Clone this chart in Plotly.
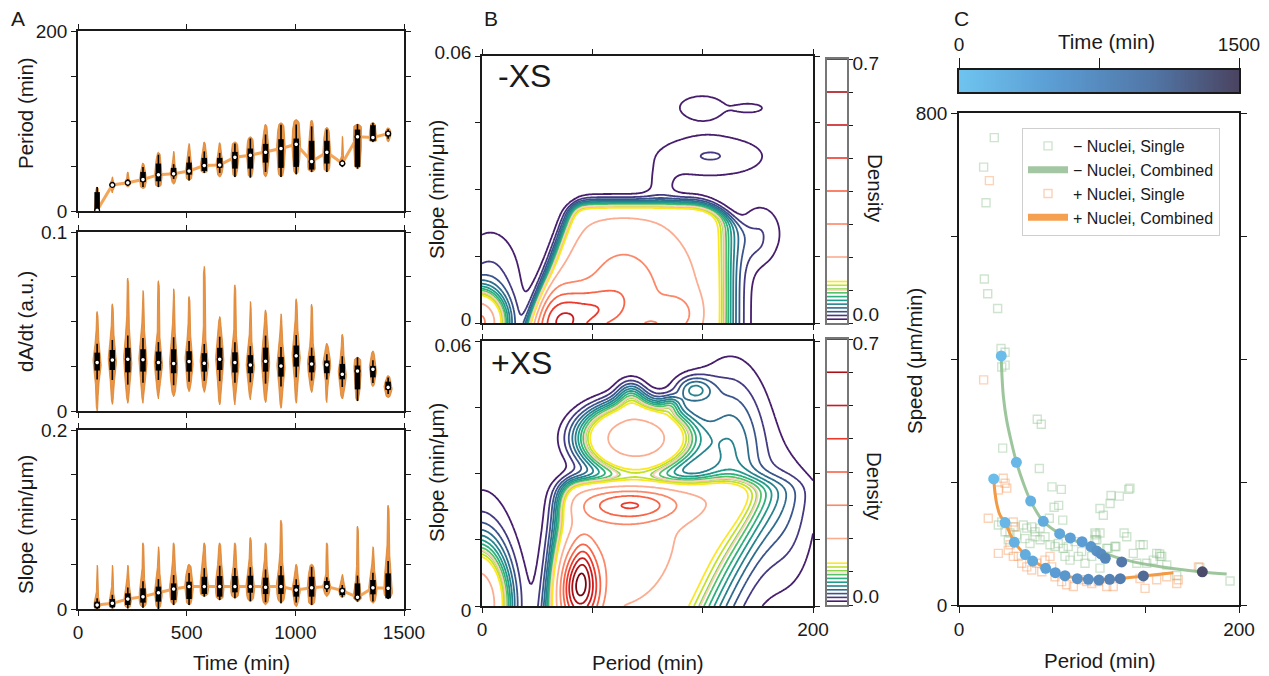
import numpy as np
import plotly.graph_objects as go
from plotly.colors import sample_colorscale

W, H = 1269, 676
FONT = "Liberation Sans, Arial, Helvetica, sans-serif"
INK = "#1a1a1a"


def fx(p):
    return p / W


def fy(p):
    return 1 - p / H


# ---------------- Panel A data (per time bin) ----------------
time_bins = [88, 158, 229, 299, 370, 440, 511, 581, 652, 722, 793, 863, 934, 1004, 1075, 1145, 1216, 1286, 1357, 1427]

period_lo = [0, 20, 26.7, 24.9, 26.7, 29.7, 34, 42.3, 37.8, 37.8, 37.1, 37.8, 37.8, 40.8, 43.4, 43.4, 49, 47, 76.8, 76.8]
period_q1 = [0, 27.5, 29.7, 32.3, 33, 39.7, 40.4, 44.5, 47.9, 47.1, 47.1, 53.8, 47.9, 49, 46, 52.7, 51, 49, 77.9, 83]
period_med = [0.7, 29, 31.5, 35, 40.4, 41.5, 44.5, 50.5, 51.2, 59.7, 62, 65.3, 69.4, 74.2, 54.9, 65.3, 53, 82.4, 81.6, 86]
period_q3 = [21, 30, 33.4, 43.4, 52.7, 47.9, 53.8, 59, 59, 65.7, 69.4, 74.6, 79.8, 80.5, 78, 78, 55, 90.5, 95.3, 88.3]
period_hi = [26.7, 38, 43.4, 53.4, 65.3, 66.4, 75, 76.8, 76, 76.8, 82.4, 96.5, 98, 101.6, 101, 92.8, 83, 96.5, 98, 92.4]
period_hw = [12, 14, 14, 16, 17, 16, 16, 17, 17, 18, 18, 18, 20, 20, 18, 18, 14, 19, 17, 14]

dadt_lo = [0, 0.0037, 0.0043, 0.0043, 0.0067, 0.008, 0.0108, 0.0104, 0.0034, 0.0034, 0.0062, 0.0047, 0.0015, 0.0043, 0.0103, 0.0047, 0.0067, 0.0056, 0.0136, 0.0075]
dadt_q1 = [0.0226, 0.0229, 0.0216, 0.022, 0.0226, 0.0211, 0.022, 0.022, 0.0229, 0.0215, 0.0211, 0.022, 0.0192, 0.0248, 0.0216, 0.0211, 0.0177, 0.0121, 0.0188, 0.0118]
dadt_med = [0.0271, 0.0285, 0.0289, 0.0287, 0.0271, 0.0265, 0.0276, 0.0267, 0.0289, 0.0271, 0.0257, 0.0278, 0.0252, 0.0308, 0.0263, 0.0259, 0.0205, 0.0224, 0.0233, 0.0132]
dadt_q3 = [0.0326, 0.0341, 0.0353, 0.0345, 0.0332, 0.0345, 0.0334, 0.0323, 0.0353, 0.0328, 0.0312, 0.0354, 0.0302, 0.0366, 0.0308, 0.0282, 0.0263, 0.0254, 0.0252, 0.0164]
dadt_hi = [0.0556, 0.0599, 0.0743, 0.0673, 0.0728, 0.0683, 0.064, 0.0808, 0.0528, 0.0705, 0.0612, 0.0565, 0.0543, 0.0627, 0.0597, 0.0379, 0.0429, 0.03, 0.0336, 0.0198]
dadt_hw = [19, 19, 19, 19, 19, 19, 19, 19, 19, 19, 19, 19, 19, 19, 19, 18, 19, 17, 17, 19]

slope_lo = [0, 0.0007, 0.0007, 0.0015, 0, 0.0045, 0.0045, 0.0138, 0.01, 0.0119, 0.0082, 0.0045, 0.0063, 0.0026, 0.0045, 0.0138, 0.013, 0.0082, 0.0063, 0.0112]
slope_q1 = [0.0007, 0.0019, 0.0045, 0.0071, 0.0082, 0.01, 0.0112, 0.0167, 0.0138, 0.0186, 0.0182, 0.0167, 0.0167, 0.0138, 0.0138, 0.0231, 0.0156, 0.0112, 0.0164, 0.0119]
slope_med = [0.0045, 0.0063, 0.0112, 0.0138, 0.0182, 0.0223, 0.025, 0.025, 0.025, 0.025, 0.025, 0.0242, 0.025, 0.0212, 0.0238, 0.025, 0.0205, 0.013, 0.0238, 0.0231]
slope_q3 = [0.0082, 0.0112, 0.0175, 0.0231, 0.025, 0.0286, 0.0305, 0.036, 0.0368, 0.0368, 0.0372, 0.035, 0.0376, 0.0268, 0.036, 0.0313, 0.0231, 0.0286, 0.0324, 0.0398]
slope_hi = [0.049, 0.049, 0.049, 0.074, 0.0696, 0.074, 0.05, 0.074, 0.074, 0.074, 0.08, 0.074, 0.0993, 0.05, 0.05, 0.074, 0.0387, 0.0926, 0.0696, 0.116]
slope_hw = [15, 15, 17, 18, 18, 19, 20, 20, 20, 20, 20, 20, 21, 19, 20, 19, 17, 19, 19, 20]

# ---------------- Panel B: density model components ----------------
# box: base, left edge, left tilt, left width, right edge, right tilt, right width, top, top width,
#      top roll-off start (period), top roll-off curvature
mxs_box = [0.16, 31, 0.95, 2.6, 147, 0.0, 5.7, 26.4, 0.94, 125, 0.004]
# (period centre, slope centre x1000, sd period, sd slope x1000, amplitude[, shape exponent])
mxs_inner = [(90, 5, 28, 9, 0.06), (85, 8, 16, 8, 0.11), (48, 0, 12, 5, 0.36),
             (70, 3, 10, 3, 0.12), (118, 2, 8, 3, 0.12)]
mxs_outer = [(138, 37.5, 26, 3.6, 0.0205), (108, 31, 7, 3, 0.01), (133, 48.5, 16, 3.0, 0.014),
             (163, 48.3, 7, 0.9, 0.013), (168, 20, 10, 5, 0.02), (-3, 0, 10, 4.2, 0.28), (5, 9, 14, 9, 0.022)]

pxs_box = [0.15, 42, 0.3, 4.0, 135, 1.2, 12, 28, 1.3, 300, 0.0]
pxs_inner = [(85, 14, 25, 10, 0.07), (90, 23, 20, 2.5, 0.26), (59, 4, 8, 5.5, 0.55), (61, 10, 4, 4, 0.1)]
pxs_outer = [(93, 38, 26, 6.2, 0.2, 3), (90, 47.5, 6, 2.5, 0.05), (128, 49, 8, 2.2, 0.045),
             (114, 45.5, 4, 1.5, 0.03), (150, 35, 15, 12, 0.05), (185, 20, 12, 12, 0.015),
             (-3, 0, 11.5, 8, 0.25), (0, 12, 14, 12, 0.018)]

low_levels = [0.01, 0.11, 0.01]
high_levels = [0.0875, 0.7, 0.0875]

# ---------------- Panel C data ----------------
minus_single_period = [25.2, 17.6, 19.3, 18.1, 20.5, 27.6, 30, 32.9, 30.5, 32.9, 55.9, 58.8, 31.2, 57.4, 66.4, 73.1,
                       67.9, 71.2, 74.1, 64.5, 100.7, 103.1, 107.9, 114.5, 108.6, 121.2, 122.1, 97.9, 97.1, 106.4,
                       112.1, 117.9, 119.8, 129.3, 131.6, 143.3, 143.6, 172, 193.6, 155.5, 28.1, 30.5, 32.9, 36.4,
                       45.9, 48.4, 51.9, 54.3, 57.9, 47.1, 50.7, 54.3, 57.9, 61.4, 65, 68.6, 70.9, 74.5, 78, 82.9,
                       87.6, 38.8, 41.2, 35.2, 75.7, 79.3, 85.2, 90, 94.8, 97.1, 98.4, 100.7, 124.5, 141.2, 144.8,
                       148.4, 138.8, 134.1, 127, 105.5, 111.4, 100.7]
minus_single_speed = [760, 712, 654, 530, 506, 482, 417, 411, 387, 390, 302, 294, 255, 222, 192, 188,
                      159, 162, 138, 141, 157, 146, 165, 177, 178, 188, 190, 114, 106, 92,
                      95, 117, 111, 98, 98, 83, 79, 61, 39, 48, 130, 135, 119, 117,
                      130, 125, 127, 119, 125, 108, 100, 111, 106, 111, 98, 95, 100, 92, 95, 103,
                      87, 127, 114, 106, 79, 73, 79, 68, 79, 117, 106, 60, 84, 84, 79,
                      65, 73, 68, 68, 92, 95, 117]
plus_single_period = [21.7, 17.6, 31.6, 32.9, 34.1, 28.1, 20.9, 38.8, 40, 28.1, 36.4, 35.2, 38.8, 42.4, 44.8, 48.4,
                      51.9, 55.5, 59.1, 61.4, 65, 66.2, 68.6, 73.3, 76.9, 81.7, 87.6, 91.2, 94.8, 99.5, 105.5,
                      110.2, 129.3, 141.2, 148.4, 156.6, 155.5, 132.9, 171]
plus_single_speed = [690, 366, 206, 198, 190, 187, 141, 135, 127, 84, 98, 89, 79, 79, 68, 62,
                     57, 68, 54, 73, 79, 62, 46, 38, 33, 30, 41, 38, 35, 38, 30,
                     30, 43, 41, 46, 41, 35, 27, 62]

minus_comb_period = [30.2, 41.0, 51.2, 60.2, 71.9, 79.5, 87.9, 94.3, 98.3, 101.4, 104.5, 116.2, 173.8]
minus_comb_speed = [405, 232, 169, 136, 116, 109, 103, 95, 88, 83, 76, 70, 54]
minus_comb_time = [95, 165, 235, 305, 375, 445, 515, 585, 655, 725, 795, 1000, 1420]
plus_comb_period = [24.8, 32.9, 39.5, 47.4, 52.6, 61.9, 68.8, 75.7, 84.5, 92.4, 100, 107.6, 115.2, 131.7]
plus_comb_speed = [205, 134, 102, 82, 71.5, 59.6, 52.6, 47.7, 42.8, 41.7, 40.6, 41.7, 42.8, 47.2]
plus_comb_time = [95, 165, 235, 305, 375, 445, 515, 585, 655, 725, 795, 865, 935, 1150]

minus_fit_period = [30.2, 30.5, 31.7, 34.0, 37.6, 41.0, 46.0, 51.2, 60.2, 71.9, 87.9, 104.5, 116.2, 136.4, 173.8, 191.2]
minus_fit_speed = [405, 382, 339, 301, 263, 232.5, 198, 169, 136, 116, 100, 84, 75, 65, 53.7, 50.4]
plus_fit_period = [24.8, 25.5, 26.9, 29.3, 32.9, 39.5, 47.4, 61.9, 75.7, 92.4, 107.6, 115.2, 131.7, 153.1]
plus_fit_speed = [205, 187, 165, 146, 134, 102, 82, 59.6, 47.7, 41.7, 41.7, 42.8, 47.2, 52.6]

TIME_CS = [[0, "#6ec4ef"], [0.35, "#5a9bd2"], [0.7, "#5175a5"], [1, "#4a4360"]]

fig = go.Figure()

# ---------------- Panel A drawing ----------------
VIOLIN_FILL = "#ea9545"
VIOLIN_EDGE = "#d9802c"


def violin_outline(t, lo, q1, med, q3, hi, hw):
    ys = np.linspace(lo, hi, 70)
    span = max(hi - lo, 1e-9)
    iqr = max(q3 - q1, span * 0.08)
    s = iqr * 0.75
    core = np.exp(-0.5 * ((ys - med) / s) ** 2)
    prof = 0.22 + 0.78 * core
    edge = np.clip(np.minimum(ys - lo, hi - ys) / (0.05 * span), 0, 1) ** 0.5
    w = hw * prof * edge
    xs = list(t - w) + list((t + w)[::-1]) + [None]
    yy = list(ys) + list(ys[::-1]) + [None]
    return xs, yy


def add_violin_panel(xa, ya, lo, q1, med, q3, hi, hw, connect):
    vx, vy = [], []
    for i, t in enumerate(time_bins):
        a, b = violin_outline(t, lo[i], q1[i], med[i], q3[i], hi[i], hw[i])
        vx += a
        vy += b
    fig.add_trace(go.Scatter(x=vx, y=vy, xaxis=xa, yaxis=ya, mode="lines", fill="toself",
                             fillcolor=VIOLIN_FILL, line=dict(color=VIOLIN_EDGE, width=0.8),
                             hoverinfo="skip", showlegend=False))
    if connect:
        fig.add_trace(go.Scatter(x=time_bins, y=med, xaxis=xa, yaxis=ya, mode="lines",
                                 line=dict(color="rgba(242,160,80,0.95)", width=3),
                                 hoverinfo="skip", showlegend=False))
    wx, wy, bx, by = [], [], [], []
    for i, t in enumerate(time_bins):
        iqr = q3[i] - q1[i]
        wlo = max(lo[i], q1[i] - 0.5 * iqr)
        whi = min(hi[i], q3[i] + 0.5 * iqr)
        wx += [t, t, None]
        wy += [wlo, whi, None]
        bx += [t, t, None]
        by += [q1[i], q3[i], None]
    fig.add_trace(go.Scatter(x=wx, y=wy, xaxis=xa, yaxis=ya, mode="lines",
                             line=dict(color="black", width=1.6), hoverinfo="skip", showlegend=False))
    fig.add_trace(go.Scatter(x=bx, y=by, xaxis=xa, yaxis=ya, mode="lines",
                             line=dict(color="black", width=5.5), hoverinfo="skip", showlegend=False))
    fig.add_trace(go.Scatter(x=time_bins, y=med, xaxis=xa, yaxis=ya, mode="markers",
                             marker=dict(color="white", size=4.8, line=dict(color="black", width=1.3)),
                             hoverinfo="skip", showlegend=False))


add_violin_panel("x", "y", period_lo, period_q1, period_med, period_q3, period_hi, period_hw, True)
add_violin_panel("x2", "y2", dadt_lo, dadt_q1, dadt_med, dadt_q3, dadt_hi, dadt_hw, False)
add_violin_panel("x3", "y3", slope_lo, slope_q1, slope_med, slope_q3, slope_hi, slope_hw, True)

# ---------------- Panel B drawing ----------------
per_axis = np.linspace(0, 200, 201)
slope_axis_pm = np.linspace(0, 60, 201)
PX, SY = np.meshgrid(per_axis, slope_axis_pm)


def sig(t):
    return 1.0 / (1.0 + np.exp(-t))


def comp(c):
    cx, cy, sx, sy, a = c[:5]
    p = c[5] if len(c) > 5 else 2.0
    r2 = ((PX - cx) / sx) ** 2 + ((SY - cy) / sy) ** 2
    return a * np.exp(-0.5 * r2 ** (p / 2.0))


def density(box, inner, outer):
    base, l0, lt, lw, r0, rt, rw, top, tw, tx0, tq = box
    top_edge = top - tq * np.maximum(0.0, PX - tx0) ** 2
    mask = sig((PX - (l0 + lt * SY)) / lw) * sig(((r0 + rt * SY) - PX) / rw) * sig((top_edge - SY) / tw)
    z = base + sum(comp(c) for c in inner)
    z = mask * z
    for c in outer:
        z = z + comp(c)
    return z


n_low = int(round((low_levels[1] - low_levels[0]) / low_levels[2])) + 1
n_high = int(round((high_levels[1] - high_levels[0]) / high_levels[2])) + 1
low_colors = sample_colorscale("Viridis", list(np.linspace(0.08, 1.0, n_low)))
high_colors = sample_colorscale("Reds", list(np.linspace(0.18, 0.97, n_high)))


def add_contours(Z, xa, ya):
    Zr = np.round(Z, 5)
    for (start, end, size), cols in [(low_levels, low_colors), (high_levels, high_colors)]:
        n = len(cols)
        cs = [[i / (n - 1), c] for i, c in enumerate(cols)]
        fig.add_trace(go.Contour(x=per_axis, y=slope_axis_pm * 1e-3, z=Zr, xaxis=xa, yaxis=ya,
                                 autocontour=False,
                                 contours=dict(start=start, end=end + size * 0.01, size=size, coloring="lines"),
                                 colorscale=cs, showscale=False, line=dict(width=1.8),
                                 hoverinfo="skip", showlegend=False))


add_contours(density(mxs_box, mxs_inner, mxs_outer), "x4", "y4")
add_contours(density(pxs_box, pxs_inner, pxs_outer), "x5", "y5")

level_vals = [low_levels[0] + k * low_levels[2] for k in range(n_low)] + \
             [high_levels[0] + k * high_levels[2] for k in range(n_high)]
level_cols = list(low_colors) + list(high_colors)
for xa, ya in [("x6", "y6"), ("x7", "y7")]:
    fig.add_trace(go.Scatter(x=[0.5] * len(level_vals), y=level_vals, xaxis=xa, yaxis=ya, mode="markers",
                             marker=dict(symbol="line-ew", size=20, line=dict(color=level_cols, width=1.6)),
                             hoverinfo="skip", showlegend=False))

# ---------------- Panel C drawing ----------------
tgrid = np.linspace(0, 1500, 301)
fig.add_trace(go.Heatmap(x=tgrid, y=[0, 1], z=[tgrid, tgrid], xaxis="x8", yaxis="y8", colorscale=TIME_CS,
                         zmin=0, zmax=1500, showscale=False, hoverinfo="skip"))

GREEN_SQ = "rgba(140,190,140,0.42)"
ORANGE_SQ = "rgba(245,150,85,0.42)"
GREEN_LN = "rgba(140,188,140,0.85)"
ORANGE_LN = "#f39a45"

fig.add_trace(go.Scatter(x=minus_single_period, y=minus_single_speed, xaxis="x9", yaxis="y9", mode="markers",
                         marker=dict(symbol="square-open", size=8, color=GREEN_SQ, line=dict(width=1.4, color=GREEN_SQ)),
                         name="\u2212 Nuclei, Single", legendrank=1, hoverinfo="skip"))
fig.add_trace(go.Scatter(x=plus_single_period, y=plus_single_speed, xaxis="x9", yaxis="y9", mode="markers",
                         marker=dict(symbol="square-open", size=8, color=ORANGE_SQ, line=dict(width=1.4, color=ORANGE_SQ)),
                         name="+ Nuclei, Single", legendrank=3, hoverinfo="skip"))
fig.add_trace(go.Scatter(x=minus_fit_period, y=minus_fit_speed, xaxis="x9", yaxis="y9", mode="lines",
                         line=dict(color=GREEN_LN, width=3, shape="spline", smoothing=0.8),
                         showlegend=False, hoverinfo="skip"))
fig.add_trace(go.Scatter(x=plus_fit_period, y=plus_fit_speed, xaxis="x9", yaxis="y9", mode="lines",
                         line=dict(color=ORANGE_LN, width=3, shape="spline", smoothing=0.8),
                         showlegend=False, hoverinfo="skip"))
fig.add_trace(go.Scatter(x=[None], y=[None], xaxis="x9", yaxis="y9", mode="lines",
                         line=dict(color="#a3c7a3", width=7), name="\u2212 Nuclei, Combined", legendrank=2))
fig.add_trace(go.Scatter(x=[None], y=[None], xaxis="x9", yaxis="y9", mode="lines",
                         line=dict(color="#f5a050", width=7), name="+ Nuclei, Combined", legendrank=4))
for px_, sp_, tt in [(minus_comb_period, minus_comb_speed, minus_comb_time),
                     (plus_comb_period, plus_comb_speed, plus_comb_time)]:
    fig.add_trace(go.Scatter(x=px_, y=sp_, xaxis="x9", yaxis="y9", mode="markers",
                             marker=dict(size=11, color=tt, colorscale=TIME_CS, cmin=0, cmax=1500,
                                         line=dict(width=0)),
                             showlegend=False, hoverinfo="skip"))


# ---------------- Layout ----------------
def ax(**kw):
    d = dict(showline=True, linecolor=INK, linewidth=1.5, mirror="ticks", ticks="outside",
             ticklen=5, tickwidth=1.2, tickcolor=INK, showgrid=False, zeroline=False,
             tickfont=dict(family=FONT, size=19, color=INK), fixedrange=True)
    d.update(kw)
    return d


A_X = [fx(78), fx(404)]
B_X = [fx(482), fx(813)]
CB_X = [fx(827), fx(847)]
C_X = [fx(959), fx(1239)]
tA = [0, 500, 1000, 1500]
tB = [0, 200 / 3, 400 / 3, 200]

layout = dict(
    width=W, height=H, margin=dict(l=0, r=0, t=0, b=0, autoexpand=False),
    paper_bgcolor="white", plot_bgcolor="white",
    font=dict(family=FONT, size=19, color=INK),
    xaxis=ax(domain=A_X, anchor="y", range=[0, 1500], tickvals=tA, ticktext=[""] * 4),
    yaxis=ax(domain=[fy(211), fy(31)], anchor="x", range=[0, 200], tickvals=[0, 50, 100, 150, 200],
             ticktext=["0", "", "", "", "200"]),
    xaxis2=ax(domain=A_X, anchor="y2", range=[0, 1500], tickvals=tA, ticktext=[""] * 4),
    yaxis2=ax(domain=[fy(411), fy(232)], anchor="x2", range=[0, 0.1], tickvals=[0, 0.025, 0.05, 0.075, 0.1],
              ticktext=["0", "", "", "", "0.1"]),
    xaxis3=ax(domain=A_X, anchor="y3", range=[0, 1500], tickvals=tA, ticktext=["0", "500", "1000", "1500"]),
    yaxis3=ax(domain=[fy(609), fy(430)], anchor="x3", range=[0, 0.2], tickvals=[0, 0.05, 0.1, 0.15, 0.2],
              ticktext=["0", "", "", "", "0.2"]),
    xaxis4=ax(domain=B_X, anchor="y4", range=[0, 200], tickvals=tB, ticktext=[""] * 4),
    yaxis4=ax(domain=[fy(323), fy(56)], anchor="x4", range=[0, 0.06], tickvals=[0, 0.015, 0.03, 0.045, 0.06],
              ticktext=["0", "", "", "", "0.06"], ticklabelshift=-4),
    xaxis5=ax(domain=B_X, anchor="y5", range=[0, 200], tickvals=tB, ticktext=["0", "", "", "200"]),
    yaxis5=ax(domain=[fy(606), fy(341)], anchor="x5", range=[0, 0.06], tickvals=[0, 0.015, 0.03, 0.045, 0.06],
              ticktext=["0", "", "", "", "0.06"], ticklabelshift=4),
    xaxis6=ax(domain=CB_X, anchor="y6", range=[0, 1], ticks="", showticklabels=False, mirror=True,
              linecolor="#777777", linewidth=1.5),
    yaxis6=ax(domain=[fy(323), fy(59)], anchor="x6", range=[0, 0.7], side="right", mirror=True,
              linecolor="#777777", linewidth=1.5, tickvals=[0.024, 0.689], ticktext=["0.0", "0.7"], ticklen=0,
              minor=dict(tickvals=[k * 0.0875 for k in range(9)], ticks="outside", ticklen=4, tickcolor=INK,
                         tickwidth=1.2)),
    xaxis7=ax(domain=CB_X, anchor="y7", range=[0, 1], ticks="", showticklabels=False, mirror=True,
              linecolor="#777777", linewidth=1.5),
    yaxis7=ax(domain=[fy(605), fy(339)], anchor="x7", range=[0, 0.7], side="right", mirror=True,
              linecolor="#777777", linewidth=1.5, tickvals=[0.024, 0.689], ticktext=["0.0", "0.7"], ticklen=0,
              minor=dict(tickvals=[k * 0.0875 for k in range(9)], ticks="outside", ticklen=4, tickcolor=INK,
                         tickwidth=1.2)),
    xaxis8=ax(domain=C_X, anchor="y8", range=[0, 1500], side="top", mirror=True, tickvals=[0, 750, 1500],
              ticktext=["0", "", "1500"], ticklen=10),
    yaxis8=ax(domain=[fy(92), fy(70)], anchor="x8", range=[0, 1], ticks="", showticklabels=False, mirror=True),
    xaxis9=ax(domain=C_X, anchor="y9", range=[0, 200], mirror=True, tickvals=tB, ticktext=["0", "", "", "200"],
              ticklen=6),
    yaxis9=ax(domain=[fy(605), fy(113)], anchor="x9", range=[0, 800], tickvals=[0, 200, 400, 600, 800],
              ticktext=["0", "", "", "", "800"], ticklen=6),
    xaxis10=dict(overlaying="x9", anchor="y9", side="top", range=[0, 200], tickvals=tB, ticks="outside",
                 ticklen=14, tickwidth=1.2, tickcolor=INK, showticklabels=False, showline=False,
                 showgrid=False, zeroline=False, fixedrange=True),
    legend=dict(x=fx(1022), y=fy(128), xanchor="left", yanchor="top", bgcolor="rgba(255,255,255,0.9)",
                bordercolor="#cfcfcf", borderwidth=1, font=dict(family=FONT, size=16, color=INK),
                tracegroupgap=0, itemwidth=40),
    showlegend=True,
)

ann = []


def text(x, y, s, size=20.5, angle=0, xanchor="center", yanchor="middle"):
    ann.append(dict(x=fx(x), y=fy(y), xref="paper", yref="paper", text=s, showarrow=False,
                    font=dict(family=FONT, size=size, color=INK), textangle=angle,
                    xanchor=xanchor, yanchor=yanchor))


text(18, 19, "A", 21)
text(491, 19, "B", 21)
text(961, 19, "C", 21)
text(25, 113, "Period (min)", angle=-90)
text(25, 322, "dA/dt (a.u.)", angle=-90)
text(25, 525, "Slope (min/\u03bcm)", angle=-90)
text(241, 662, "Time (min)")
text(436, 190, "Slope (min/\u03bcm)", angle=-90)
text(436, 473, "Slope (min/\u03bcm)", angle=-90)
text(648, 662, "Period (min)")
text(875, 188, "Density", angle=90)
text(875, 486, "Density", angle=90)
text(496, 76, "-XS", 32, xanchor="left")
text(489, 363, "+XS", 32, xanchor="left")
text(914, 361, "Speed (\u03bcm/min)", angle=-90)
text(1100, 660, "Period (min)")
text(1106, 42, "Time (min)")
layout["annotations"] = ann

fig.update_layout(**layout)
fig.write_html("out.html")
